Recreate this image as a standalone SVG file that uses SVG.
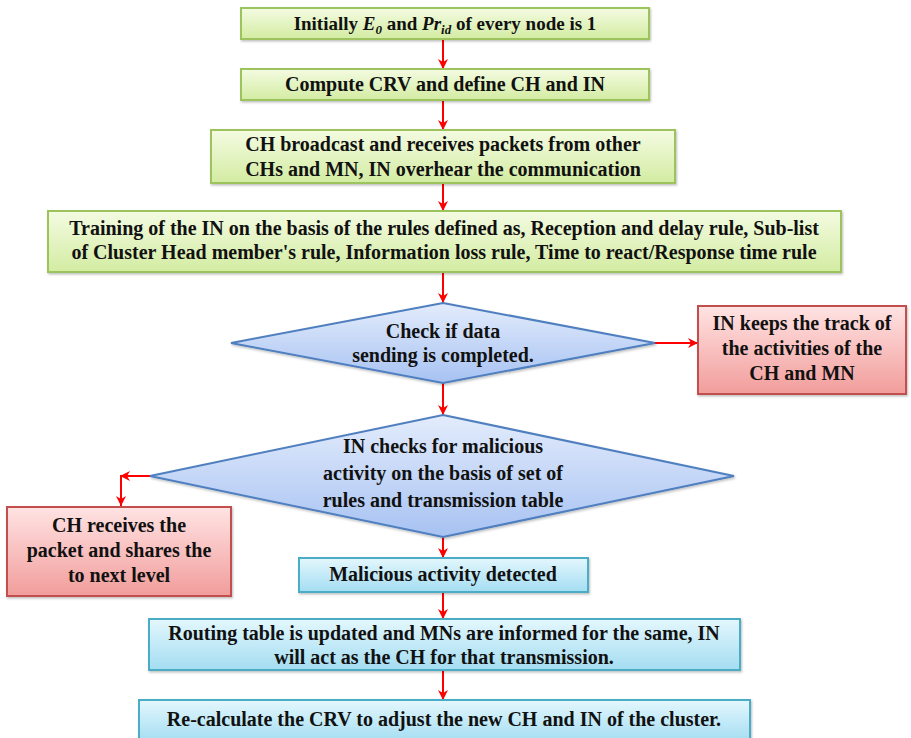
<svg xmlns="http://www.w3.org/2000/svg" width="911" height="738" viewBox="0 0 911 738">
  <defs>
    <linearGradient id="gGreen" x1="0" y1="0" x2="0" y2="1">
      <stop offset="0" stop-color="#f4fbe2"/>
      <stop offset="1" stop-color="#d3eca2"/>
    </linearGradient>
    <linearGradient id="gBlue" x1="0" y1="0" x2="0" y2="1">
      <stop offset="0" stop-color="#e3ecfc"/>
      <stop offset="1" stop-color="#a7c2f2"/>
    </linearGradient>
    <linearGradient id="gRed" x1="0" y1="0" x2="0" y2="1">
      <stop offset="0" stop-color="#ffe3e3"/>
      <stop offset="1" stop-color="#f19d9b"/>
    </linearGradient>
    <linearGradient id="gCyan" x1="0" y1="0" x2="0" y2="1">
      <stop offset="0" stop-color="#e4f7fd"/>
      <stop offset="1" stop-color="#a3ddf2"/>
    </linearGradient>
    <filter id="shadow" x="-5%" y="-10%" width="110%" height="130%">
      <feDropShadow dx="1" dy="1.5" stdDeviation="1.2" flood-color="#000" flood-opacity="0.25"/>
    </filter>
    <marker id="arrow" viewBox="0 0 10 10" refX="10" refY="5" markerWidth="5" markerHeight="5" orient="auto" markerUnits="strokeWidth">
      <path d="M0,0 L10,5 L0,10 L3,5 Z" fill="#ff0000"/>
    </marker>
  </defs>
  <style>
    .green { fill: url(#gGreen); stroke: #9cc35c; stroke-width: 2; filter: url(#shadow); }
    .blue { fill: url(#gBlue); stroke: #4f7fbf; stroke-width: 2; filter: url(#shadow); }
    .red { fill: url(#gRed); stroke: #c0504d; stroke-width: 2; filter: url(#shadow); }
    .cyan { fill: url(#gCyan); stroke: #4bacc6; stroke-width: 2; filter: url(#shadow); }
    .conn { fill: none; stroke: #ff0000; stroke-width: 2; marker-end: url(#arrow); }
  </style>

  <!-- connectors: red arrows between steps -->
  <g id="connectors">
    <path class="conn" d="M443,39 L443,69"/>
    <path class="conn" d="M443,100 L443,130"/>
    <path class="conn" d="M443,183 L443,211"/>
    <path class="conn" d="M443,272 L443,303"/>
    <path class="conn" d="M654,343 L698,343"/>
    <path class="conn" d="M443,383 L443,415"/>
    <path class="conn" d="M150,476 L120,476"/>
    <path class="conn" d="M121,476 L121,506"/>
    <path class="conn" d="M443,537 L443,558"/>
    <path class="conn" d="M443,592 L443,619"/>
    <path class="conn" d="M443,670 L443,700"/>
  </g>

  <!-- steps and decisions; labels are bold serif, centred -->
  <g id="init">
    <rect class="green" x="241" y="8" width="408" height="31"/>
    <text x="445" y="30" style="font-family:'Liberation Serif',serif;font-weight:700;font-size:19px;fill:#111;text-anchor:middle">Initially <tspan font-style="italic">E</tspan><tspan font-style="italic" font-size="13" dy="4">0</tspan><tspan dy="-4"> and </tspan><tspan font-style="italic">Pr</tspan><tspan font-style="italic" font-size="13" dy="4">id</tspan><tspan dy="-4">  of every node is 1</tspan></text>
  </g>

  <g id="compute">
    <rect class="green" x="241" y="69" width="408" height="31"/>
    <text x="445" y="91" style="font-family:'Liberation Serif',serif;font-weight:700;font-size:20px;fill:#111;text-anchor:middle">Compute CRV and define CH and IN</text>
  </g>

  <g id="broadcast">
    <rect class="green" x="211" y="130" width="464" height="53"/>
    <text x="443" y="151" style="font-family:'Liberation Serif',serif;font-weight:700;font-size:20px;fill:#111;text-anchor:middle">CH broadcast and receives packets from other</text>
    <text x="443" y="176" style="font-family:'Liberation Serif',serif;font-weight:700;font-size:20px;fill:#111;text-anchor:middle">CHs and MN, IN overhear the communication</text>
  </g>

  <g id="training">
    <rect class="green" x="48" y="211" width="793" height="61"/>
    <text x="444" y="235" style="font-family:'Liberation Serif',serif;font-weight:700;font-size:20px;fill:#111;text-anchor:middle">Training of the IN on the basis of the rules defined as, Reception and delay rule, Sub-list</text>
    <text x="444" y="259" style="font-family:'Liberation Serif',serif;font-weight:700;font-size:20px;fill:#111;text-anchor:middle">of Cluster Head member's rule, Information loss rule, Time to react/Response time rule</text>
  </g>

  <g id="check-sending">
    <polygon class="blue" points="443,303 655,343 443,383 231,343"/>
    <text x="443" y="338" style="font-family:'Liberation Serif',serif;font-weight:700;font-size:20px;fill:#111;text-anchor:middle">Check if data</text>
    <text x="443" y="362" style="font-family:'Liberation Serif',serif;font-weight:700;font-size:20px;fill:#111;text-anchor:middle">sending is completed.</text>
  </g>

  <g id="track">
    <rect class="red" x="698" y="306" width="208" height="88"/>
    <text x="802" y="330" style="font-family:'Liberation Serif',serif;font-weight:700;font-size:20px;fill:#111;text-anchor:middle">IN keeps the track of</text>
    <text x="802" y="355" style="font-family:'Liberation Serif',serif;font-weight:700;font-size:20px;fill:#111;text-anchor:middle">the activities of the</text>
    <text x="802" y="380" style="font-family:'Liberation Serif',serif;font-weight:700;font-size:20px;fill:#111;text-anchor:middle">CH and MN</text>
  </g>

  <g id="check-malicious">
    <polygon class="blue" points="443,415 734,476 443,537 150,476"/>
    <text x="443" y="453" style="font-family:'Liberation Serif',serif;font-weight:700;font-size:20px;fill:#111;text-anchor:middle">IN checks for malicious</text>
    <text x="443" y="480" style="font-family:'Liberation Serif',serif;font-weight:700;font-size:20px;fill:#111;text-anchor:middle">activity on the basis of set of</text>
    <text x="443" y="507" style="font-family:'Liberation Serif',serif;font-weight:700;font-size:20px;fill:#111;text-anchor:middle">rules and transmission table</text>
  </g>

  <g id="receive">
    <rect class="red" x="7" y="507" width="224" height="89"/>
    <text x="119" y="532" style="font-family:'Liberation Serif',serif;font-weight:700;font-size:20px;fill:#111;text-anchor:middle">CH receives the</text>
    <text x="119" y="557" style="font-family:'Liberation Serif',serif;font-weight:700;font-size:20px;fill:#111;text-anchor:middle">packet and shares the</text>
    <text x="119" y="582" style="font-family:'Liberation Serif',serif;font-weight:700;font-size:20px;fill:#111;text-anchor:middle">to next level</text>
  </g>

  <g id="detected">
    <rect class="cyan" x="299" y="558" width="289" height="34"/>
    <text x="443" y="581" style="font-family:'Liberation Serif',serif;font-weight:700;font-size:20px;fill:#111;text-anchor:middle">Malicious activity detected</text>
  </g>

  <g id="routing">
    <rect class="cyan" x="149" y="619" width="591" height="51"/>
    <text x="444" y="640" style="font-family:'Liberation Serif',serif;font-weight:700;font-size:20px;fill:#111;text-anchor:middle">Routing table is updated and MNs are informed for the same, IN</text>
    <text x="444" y="664" style="font-family:'Liberation Serif',serif;font-weight:700;font-size:20px;fill:#111;text-anchor:middle">will act as the CH for that transmission.</text>
  </g>

  <g id="recalculate">
    <rect class="cyan" x="139" y="700" width="611" height="42"/>
    <text x="444" y="726" style="font-family:'Liberation Serif',serif;font-weight:700;font-size:20px;fill:#111;text-anchor:middle">Re-calculate the CRV to adjust the new CH and IN of the cluster.</text>
  </g>
</svg>
